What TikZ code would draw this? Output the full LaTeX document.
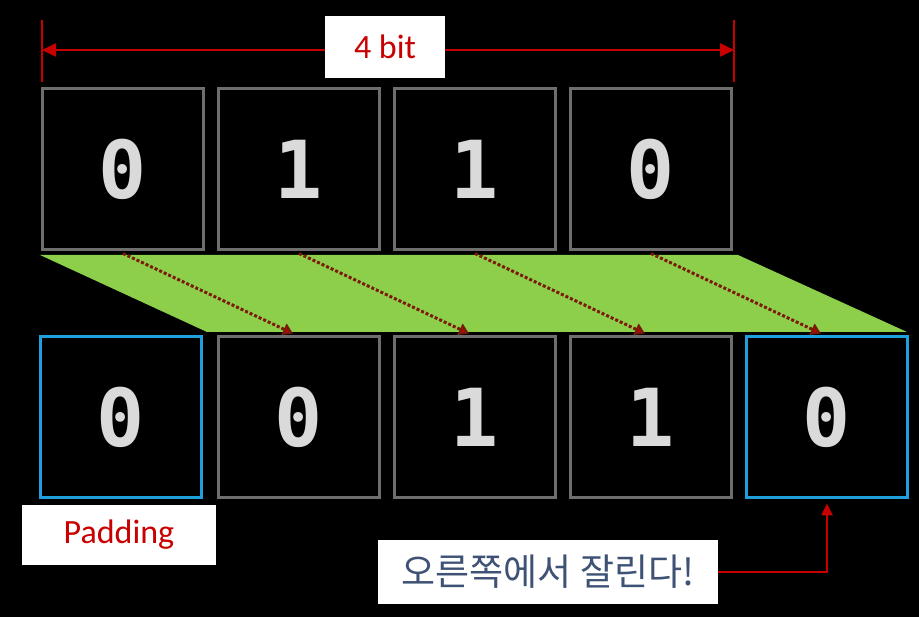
\documentclass[tikz,border=0pt]{standalone}
\usepackage{fontspec}
\setmainfont{Carlito}
\newfontfamily\digitfont{DejaVu Sans Mono}
\newfontfamily\krfont{Noto Sans CJK KR}
\usetikzlibrary{arrows.meta}
\definecolor{cellgray}{HTML}{6E6E6E}
\definecolor{padblue}{HTML}{1FA0DC}
\definecolor{shiftgreen}{HTML}{8DCF4B}
\definecolor{dimred}{HTML}{C80000}
\definecolor{dotred}{HTML}{7A1A05}
\definecolor{digitgray}{HTML}{DADADA}
\definecolor{krtext}{HTML}{3E5275}
\tikzset{
  cell/.style={draw=cellgray, line width=3pt, minimum size=161pt, inner sep=0pt,
    font=\digitfont\bfseries\fontsize{80}{80}\selectfont, text=digitgray},
  padcell/.style={cell, draw=padblue},
  labelbox/.style={fill=white, inner sep=0pt, font=\fontsize{34}{34}\selectfont},
  shiftarrow/.style={draw=dotred, line width=3pt, dotted, -{Triangle[length=10pt,width=12pt,fill=dimred]}},
}
\begin{document}
\begin{tikzpicture}[x=1pt,y=-1pt]
\fill[black] (0,0) rectangle (919,617);
\useasboundingbox (0,0) rectangle (919,617);
% green band
\fill[shiftgreen] (40,255) -- (738,255) -- (907,332) -- (207,332) -- cycle;
% top row
\node[cell] (t1) at (123,169.5) {0};
\node[cell] (t2) at (299,169.5) {1};
\node[cell] (t3) at (475,169.5) {1};
\node[cell] (t4) at (651,169.5) {0};
% bottom row
\node[padcell] (b0) at (120.5,417.5) {0};
\node[cell] (b1) at (299,417.5) {0};
\node[cell] (b2) at (475,417.5) {1};
\node[cell] (b3) at (651,417.5) {1};
\node[padcell] (b4) at (827,417.5) {0};
% dimension line
\coordinate (dl) at (42,50);
\coordinate (dr) at (734,50);
\coordinate (dlt) at (42,20);
\coordinate (dlb) at (42,82);
\coordinate (drt) at (734,20);
\coordinate (drb) at (734,82);
\draw[dimred, line width=2.5pt] (dlt) -- (dlb);
\draw[dimred, line width=2.5pt] (drt) -- (drb);
\draw[dimred, line width=2.5pt, {Triangle[length=14pt,width=13pt]}-{Triangle[length=14pt,width=13pt]}] (dl) -- (dr);
\node[labelbox, minimum width=120pt, minimum height=62pt, text=dimred] (bits) at (385,47) {4 bit};
% shift arrows
\draw[shiftarrow] ([yshift=-2pt]t1.south) -- ([xshift=-6pt,yshift=2pt]b1.north);
\draw[shiftarrow] ([yshift=-2pt]t2.south) -- ([xshift=-6pt,yshift=2pt]b2.north);
\draw[shiftarrow] ([yshift=-2pt]t3.south) -- ([xshift=-6pt,yshift=2pt]b3.north);
\draw[shiftarrow] ([yshift=-2pt]t4.south) -- ([xshift=-6pt,yshift=2pt]b4.north);
% labels
\node[labelbox, minimum width=194pt, minimum height=60pt, text=dimred] (pad) at (119,535) {Padding};
\node[labelbox, minimum width=340pt, minimum height=63pt, text=krtext, font=\krfont\fontsize{37}{37}\selectfont] (cut) at (548,572) {오른쪽에서 잘린다!};
\draw[dimred, line width=2.5pt, -{Triangle[length=12pt,width=11pt]}] (cut.east) -| ([yshift=-4pt]b4.south);
\end{tikzpicture}
\end{document}
